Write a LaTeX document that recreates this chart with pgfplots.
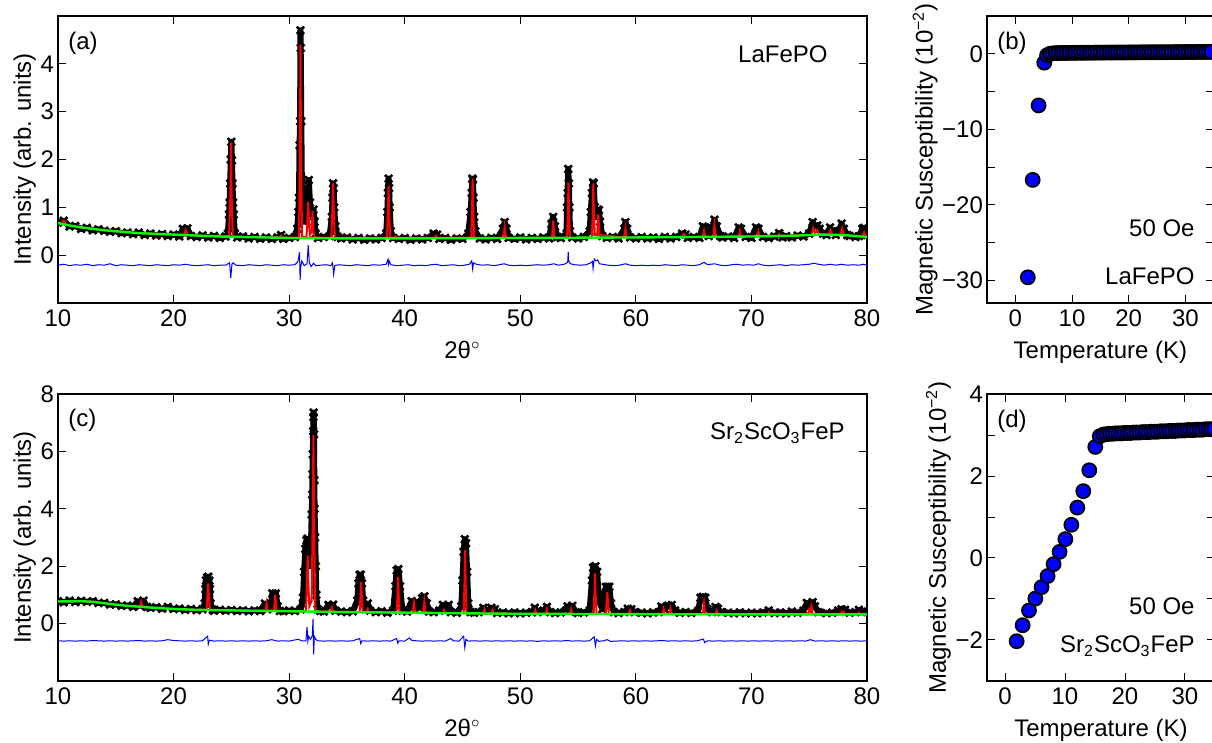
\documentclass[border=0pt]{standalone}
\usepackage{fontspec}
\setmainfont{Liberation Sans}
\usepackage{pgfplots}
\pgfplotsset{compat=1.18}
\usepackage{pgfplotstable}

\pgfplotstableread{
x y
10.0 0.68
10.5 0.72
11.0 0.60
11.5 0.61
12.0 0.55
12.5 0.57
13.0 0.52
13.5 0.54
14.0 0.51
14.5 0.49
15.0 0.50
15.5 0.46
16.0 0.47
16.5 0.44
17.0 0.47
17.5 0.42
18.0 0.45
18.5 0.41
19.0 0.44
19.5 0.40
20.0 0.43
20.5 0.39
20.8 0.55
21.0 0.45
21.2 0.56
21.5 0.40
22.0 0.38
22.5 0.41
23.0 0.37
23.5 0.40
24.0 0.36
24.5 0.39
24.7 0.45
24.8 0.85
24.85 1.1
24.9 1.5
24.95 2.0
25.0 2.37
25.05 1.98
25.1 1.5
25.15 1.1
25.2 0.85
25.3 0.45
25.5 0.37
26.0 0.39
26.5 0.35
27.0 0.38
27.5 0.34
28.0 0.37
28.5 0.34
29.0 0.37
29.3 0.42
29.5 0.34
30.0 0.36
30.5 0.38
30.7 0.55
30.8 0.9
30.85 1.2
30.9 2.3
30.95 2.8
30.98 4.7
31.0 4.33
31.05 2.8
31.1 1.5
31.2 0.9
31.3 0.7
31.5 0.8
31.6 1.1
31.7 1.57
31.8 1.1
31.9 0.8
32.0 0.9
32.1 0.95
32.2 0.7
32.3 0.45
32.5 0.36
33.0 0.38
33.5 0.40
33.7 0.8
33.75 1.2
33.8 1.5
33.85 1.4
33.9 1.0
34.0 0.6
34.2 0.38
34.5 0.35
35.0 0.37
35.5 0.33
36.0 0.36
36.5 0.32
37.0 0.35
37.5 0.33
38.0 0.36
38.4 0.45
38.5 0.9
38.55 1.3
38.6 1.6
38.65 1.4
38.7 1.0
38.8 0.5
39.0 0.36
39.5 0.34
40.0 0.36
40.5 0.32
41.0 0.35
41.5 0.33
42.0 0.36
42.5 0.45
42.8 0.43
43.0 0.34
43.5 0.36
44.0 0.32
44.5 0.35
45.0 0.34
45.5 0.45
45.7 0.9
45.8 1.3
45.85 1.6
45.9 1.58
45.95 1.2
46.0 0.8
46.1 0.5
46.5 0.35
47.0 0.33
47.5 0.36
48.0 0.34
48.5 0.55
48.65 0.69
48.8 0.55
49.0 0.36
49.5 0.34
50.0 0.37
50.5 0.33
51.0 0.36
51.5 0.34
52.0 0.37
52.5 0.35
52.7 0.65
52.85 0.8
53.0 0.6
53.2 0.38
53.5 0.36
54.0 0.45
54.05 1.0
54.1 1.3
54.15 1.8
54.2 1.5
54.25 1.0
54.3 0.5
54.5 0.37
55.0 0.35
55.5 0.38
56.0 0.5
56.1 0.9
56.2 1.3
56.3 1.52
56.35 1.5
56.45 1.0
56.6 0.8
56.7 0.95
56.8 0.94
56.9 0.7
57.1 0.4
57.5 0.36
58.0 0.38
58.5 0.35
59.0 0.55
59.1 0.69
59.25 0.55
59.5 0.37
60.0 0.35
60.5 0.38
61.0 0.35
61.5 0.37
62.0 0.34
62.5 0.38
63.0 0.35
63.5 0.38
64.0 0.45
64.3 0.43
64.5 0.36
65.0 0.38
65.5 0.36
65.8 0.6
66.0 0.58
66.3 0.4
66.6 0.55
66.8 0.74
67.0 0.6
67.3 0.4
67.5 0.37
68.0 0.39
68.5 0.36
68.9 0.58
69.1 0.55
69.5 0.38
70.0 0.36
70.4 0.58
70.6 0.55
71.0 0.38
71.5 0.36
72.0 0.39
72.4 0.46
72.7 0.37
73.0 0.40
73.5 0.37
74.0 0.41
74.5 0.39
75.0 0.45
75.3 0.69
75.5 0.6
75.7 0.62
75.9 0.55
76.2 0.45
76.5 0.42
76.8 0.58
77.0 0.5
77.3 0.42
77.6 0.5
77.8 0.66
78.0 0.55
78.3 0.42
78.5 0.40
79.0 0.38
79.3 0.40
79.6 0.55
79.75 0.57
80.0 0.42
}\obsA

\pgfplotstableread{
x y
10 0.67
10.3 0.66
10.5 0.72
10.7 0.64
11 0.62
12 0.58
13 0.55
14 0.52
15 0.50
16 0.48
17 0.46
18 0.45
19 0.44
20 0.43
20.9 0.42
21.05 0.52
21.2 0.42
22 0.41
23 0.40
24 0.39
24.8 0.39
24.92 1.3
24.97 2.35
25.02 1.3
25.12 0.39
26 0.38
27 0.38
28 0.37
29.2 0.37
29.3 0.41
29.4 0.37
30 0.36
30.85 0.37
30.93 2.0
30.98 4.4
31.03 2.0
31.12 0.38
31.5 0.38
31.58 0.7
31.65 1.12
31.72 0.7
31.8 0.42
31.95 0.5
32.02 0.92
32.1 0.5
32.2 0.37
33.65 0.36
33.75 1.0
33.8 1.5
33.85 1.0
33.95 0.36
38.45 0.36
38.55 0.9
38.6 1.45
38.65 0.9
38.75 0.36
39.1 0.36
39.2 0.39
39.3 0.36
42.6 0.36
42.7 0.40
42.8 0.36
45.75 0.36
45.83 1.0
45.88 1.6
45.93 1.0
46.0 0.36
48.55 0.36
48.65 0.58
48.75 0.36
52.75 0.36
52.85 0.72
52.95 0.36
54.05 0.36
54.12 0.9
54.17 1.52
54.22 0.9
54.3 0.36
56.2 0.37
56.27 0.9
56.32 1.5
56.37 0.9
56.45 0.42
56.65 0.42
56.75 0.85
56.85 0.42
59.0 0.37
59.1 0.55
59.2 0.37
64.0 0.38
64.15 0.44
64.3 0.38
65.8 0.38
65.9 0.5
66.0 0.38
66.7 0.38
66.8 0.62
66.9 0.38
68.9 0.39
69.0 0.5
69.1 0.39
70.5 0.39
70.6 0.49
70.7 0.39
72.3 0.40
72.4 0.44
72.5 0.40
75.2 0.42
75.35 0.56
75.5 0.47
75.7 0.52
75.85 0.43
76.7 0.43
76.85 0.52
77.0 0.43
77.7 0.42
77.85 0.55
78.0 0.42
79.6 0.39
79.75 0.48
79.9 0.38
80 0.38
}\calcA

\pgfplotstableread{
x y
10 0.67
11 0.62
12 0.58
13 0.55
14 0.52
15 0.50
16 0.48
17 0.46
18 0.45
19 0.44
20 0.43
21 0.42
22 0.41
23 0.40
24 0.39
26 0.38
28 0.37
30 0.36
35 0.35
40 0.35
45 0.355
50 0.36
55 0.365
60 0.37
65 0.38
70 0.39
72 0.40
74 0.41
76 0.43
78 0.42
79 0.40
80 0.38
}\bgA

\pgfplotstableread{
x y
10.0 -0.21
10.5 -0.19
11.0 -0.22
11.5 -0.20
12.0 -0.21
12.5 -0.19
13.0 -0.22
13.5 -0.20
14.0 -0.21
14.5 -0.18
15.0 -0.22
15.5 -0.20
16.0 -0.21
16.5 -0.22
17.0 -0.20
17.5 -0.21
18.0 -0.22
18.5 -0.20
19.0 -0.21
19.5 -0.22
20.0 -0.20
20.5 -0.21
21.0 -0.19
21.5 -0.21
22.0 -0.22
22.5 -0.21
23.0 -0.20
23.5 -0.22
24.0 -0.21
24.5 -0.21
24.85 -0.16
24.95 -0.48
25.05 -0.19
25.15 -0.16
25.4 -0.21
26.0 -0.22
26.5 -0.20
27.0 -0.21
27.5 -0.22
28.0 -0.20
28.5 -0.21
29.0 -0.22
29.5 -0.20
30.0 -0.21
30.5 -0.20
30.75 -0.14
30.9 0.06
30.95 -0.52
31.0 -0.25
31.1 -0.12
31.3 -0.22
31.55 -0.18
31.65 0.21
31.75 -0.16
31.9 -0.24
32.1 -0.17
32.3 -0.22
32.7 -0.21
33.2 -0.20
33.6 -0.22
33.75 -0.16
33.85 -0.40
33.95 -0.22
34.3 -0.20
34.8 -0.21
35.3 -0.22
35.8 -0.20
36.3 -0.21
36.8 -0.22
37.3 -0.20
37.8 -0.21
38.4 -0.19
38.55 -0.09
38.6 -0.19
38.65 -0.12
38.8 -0.20
39.3 -0.22
39.8 -0.21
40.3 -0.20
40.8 -0.22
41.3 -0.21
41.8 -0.22
42.3 -0.20
42.7 -0.19
43.2 -0.22
43.7 -0.21
44.2 -0.20
44.7 -0.22
45.2 -0.21
45.6 -0.19
45.8 -0.12
45.88 -0.29
45.95 -0.16
46.2 -0.19
46.7 -0.21
47.2 -0.20
47.7 -0.22
48.2 -0.20
48.6 -0.18
49.0 -0.21
49.5 -0.22
50.0 -0.21
50.5 -0.22
51.0 -0.21
51.5 -0.20
52.0 -0.21
52.5 -0.20
52.9 -0.18
53.3 -0.21
53.8 -0.19
54.1 -0.15
54.15 0.07
54.2 -0.13
54.35 -0.18
54.7 -0.20
55.2 -0.21
55.7 -0.20
56.1 -0.16
56.25 -0.13
56.3 -0.28
56.4 -0.08
56.55 -0.12
56.7 -0.10
56.85 -0.18
57.1 -0.19
57.6 -0.21
58.1 -0.22
58.6 -0.21
59.1 -0.18
59.5 -0.21
60.0 -0.22
60.5 -0.21
61.0 -0.22
61.5 -0.21
62.0 -0.22
62.5 -0.20
63.0 -0.21
63.5 -0.22
64.0 -0.20
64.5 -0.21
65.0 -0.22
65.5 -0.20
65.9 -0.15
66.2 -0.20
66.8 -0.18
67.3 -0.21
67.8 -0.22
68.3 -0.20
68.8 -0.19
69.2 -0.21
69.7 -0.20
70.2 -0.21
70.6 -0.18
71.0 -0.21
71.5 -0.22
72.0 -0.21
72.5 -0.20
73.0 -0.22
73.5 -0.20
74.0 -0.21
74.5 -0.20
75.0 -0.19
75.4 -0.17
75.8 -0.19
76.3 -0.21
76.8 -0.19
77.3 -0.21
77.8 -0.19
78.3 -0.21
78.8 -0.20
79.3 -0.21
79.7 -0.19
80.0 -0.21
}\diffA

\pgfplotstableread{
x y
10.0 0.78
10.5 0.74
11.0 0.80
11.5 0.75
12.0 0.79
12.5 0.76
13.0 0.78
13.5 0.72
14.0 0.72
14.5 0.66
15.0 0.67
15.5 0.62
16.0 0.63
16.5 0.58
16.9 0.78
17.1 0.62
17.4 0.80
17.7 0.58
18.0 0.55
18.5 0.57
19.0 0.52
19.5 0.58
20.0 0.51
20.5 0.52
21.0 0.48
21.5 0.51
22.0 0.47
22.5 0.50
22.7 0.7
22.75 1.2
22.8 1.5
22.9 1.6
23.0 1.63
23.1 1.5
23.15 1.2
23.2 0.7
23.4 0.48
23.5 0.45
24.0 0.48
24.5 0.45
25.0 0.47
25.5 0.44
26.0 0.46
26.5 0.43
27.0 0.46
27.5 0.44
27.9 0.70
28.1 0.50
28.4 0.60
28.55 1.05
28.7 0.95
28.85 1.05
29.0 0.6
29.2 0.44
29.5 0.43
30.0 0.45
30.5 0.44
31.0 0.50
31.2 0.9
31.3 1.8
31.4 2.6
31.5 2.9
31.6 2.96
31.7 2.6
31.8 2.0
31.9 2.9
31.95 3.8
32.0 4.5
32.02 5.2
32.05 5.9
32.08 6.7
32.1 7.2
32.12 7.35
32.15 6.6
32.18 5.0
32.2 4.0
32.25 3.0
32.3 2.0
32.35 1.0
32.45 0.5
32.7 0.44
33.0 0.42
33.4 0.65
33.6 0.6
33.8 0.66
34.0 0.45
34.5 0.42
35.0 0.40
35.5 0.43
35.9 0.8
36.0 1.4
36.1 1.7
36.2 1.7
36.3 1.4
36.4 0.8
36.6 0.5
36.8 0.7
37.0 0.45
37.5 0.40
38.0 0.43
38.5 0.38
39.0 0.45
39.2 1.3
39.3 1.85
39.45 1.9
39.6 1.3
39.8 0.45
40.2 0.42
40.6 0.78
40.8 0.6
41.0 0.75
41.3 0.55
41.5 0.88
41.7 0.95
41.9 0.7
42.1 0.42
42.5 0.40
43.0 0.45
43.3 0.65
43.5 0.5
43.8 0.65
44.0 0.40
44.5 0.38
44.9 0.6
45.0 1.5
45.1 2.5
45.2 2.94
45.3 2.8
45.4 1.8
45.5 0.7
45.7 0.40
46.0 0.38
46.4 0.40
46.8 0.55
47.2 0.45
47.5 0.55
47.8 0.50
48.0 0.37
48.5 0.39
49.0 0.36
49.5 0.39
50.0 0.36
50.5 0.38
51.0 0.40
51.25 0.55
51.5 0.40
52.0 0.45
52.3 0.58
52.6 0.40
53.0 0.37
53.5 0.39
54.1 0.6
54.3 0.5
54.5 0.62
54.8 0.40
55.0 0.37
55.5 0.39
56.0 0.45
56.2 1.5
56.3 1.95
56.5 2.0
56.65 1.8
56.8 0.8
57.1 0.5
57.3 1.0
57.4 1.28
57.55 1.28
57.7 1.28
57.85 0.7
58.1 0.40
58.5 0.37
59.0 0.40
59.3 0.52
59.6 0.5
59.9 0.40
60.5 0.38
61.0 0.36
61.5 0.39
62.0 0.40
62.2 0.6
62.5 0.5
62.8 0.62
63.1 0.65
63.4 0.45
63.8 0.38
64.3 0.40
64.8 0.37
65.4 0.45
65.6 0.9
65.8 0.93
66.0 0.9
66.2 0.5
66.6 0.40
66.9 0.58
67.1 0.52
67.4 0.40
68.0 0.38
68.5 0.36
69.0 0.39
69.5 0.36
70.0 0.38
70.5 0.36
71.0 0.39
71.5 0.46
72.0 0.37
72.5 0.39
73.0 0.36
73.5 0.42
74.0 0.38
74.5 0.45
74.8 0.72
75.0 0.6
75.3 0.75
75.5 0.6
75.8 0.40
76.5 0.37
77.0 0.38
77.5 0.45
77.8 0.50
78.1 0.48
78.5 0.38
79.0 0.40
79.3 0.48
79.6 0.42
80.0 0.40
}\obsC

\pgfplotstableread{
x y
10 0.77
12 0.78
13 0.76
14 0.71
15 0.66
16 0.62
17.1 0.59
17.2 0.75
17.3 0.59
18 0.56
20 0.51
22 0.48
22.85 0.48
22.95 1.0
23.0 1.4
23.05 1.0
23.15 0.48
25 0.46
27.95 0.45
28.05 0.7
28.15 0.45
28.7 0.45
28.8 1.0
28.9 0.45
30 0.43
31.45 0.43
31.55 1.5
31.6 2.38
31.65 1.5
31.75 0.6
31.95 0.8
32.05 4.0
32.1 6.57
32.15 4.0
32.25 0.6
32.35 0.43
33.6 0.41
33.7 0.55
33.8 0.41
36.1 0.40
36.18 1.0
36.22 1.45
36.28 1.0
36.36 0.40
36.7 0.40
36.8 0.5
36.9 0.40
39.3 0.39
39.38 1.0
39.42 1.63
39.48 1.0
39.56 0.39
40.7 0.38
40.8 0.7
40.9 0.38
41.6 0.38
41.7 0.75
41.8 0.38
43.3 0.37
43.4 0.47
43.5 0.37
45.1 0.36
45.18 1.5
45.22 2.56
45.27 1.5
45.35 0.36
46.8 0.36
46.9 0.5
47.0 0.36
47.5 0.36
47.6 0.48
47.7 0.36
50 0.34
51.2 0.34
51.3 0.47
51.4 0.34
52.2 0.34
52.3 0.5
52.4 0.34
54.3 0.34
54.4 0.5
54.5 0.34
56.35 0.34
56.42 1.0
56.47 1.75
56.52 1.0
56.6 0.34
57.4 0.34
57.48 0.8
57.53 1.1
57.58 0.8
57.66 0.34
59.4 0.33
59.5 0.45
59.6 0.33
60 0.33
62.3 0.33
62.4 0.5
62.5 0.33
62.9 0.33
63.0 0.52
63.1 0.33
65.8 0.33
65.9 0.7
66.0 0.33
66.9 0.33
67.0 0.45
67.1 0.33
70 0.32
71.4 0.32
71.5 0.38
71.6 0.32
74.9 0.32
75.0 0.5
75.1 0.42
75.2 0.6
75.3 0.32
77.7 0.32
77.8 0.4
77.9 0.32
78.0 0.4
78.1 0.32
79.2 0.32
79.3 0.38
79.4 0.32
80 0.32
}\calcC

\pgfplotstableread{
x y
10 0.77
12 0.78
13 0.76
14 0.71
15 0.66
16 0.62
18 0.56
20 0.51
22 0.48
25 0.46
28 0.44
30 0.43
35 0.40
40 0.38
45 0.36
50 0.34
60 0.33
70 0.32
80 0.32
}\bgC

\pgfplotstableread{
x y
10 -0.60
10.5 -0.61
11 -0.60
11.5 -0.61
12 -0.60
12.5 -0.61
13 -0.59
13.5 -0.60
14 -0.61
14.5 -0.60
15 -0.61
15.5 -0.60
16 -0.61
16.5 -0.60
17 -0.59
17.5 -0.61
18 -0.60
18.5 -0.61
19 -0.60
19.5 -0.56
20 -0.59
20.5 -0.60
21 -0.61
21.5 -0.60
22 -0.61
22.5 -0.60
22.95 -0.44
23.0 -0.72
23.1 -0.58
23.5 -0.61
24 -0.60
24.5 -0.61
25 -0.60
25.5 -0.61
26 -0.60
26.5 -0.61
27 -0.60
27.5 -0.61
28 -0.60
28.5 -0.56
29 -0.61
29.5 -0.60
30 -0.61
30.5 -0.57
30.8 -0.55
31.1 -0.60
31.45 -0.60
31.55 -0.12
31.62 -0.62
31.7 -0.45
31.85 -0.55
32.0 -0.42
32.07 0.17
32.12 -1.07
32.18 -0.45
32.3 -0.55
32.5 -0.60
33 -0.61
33.5 -0.60
34 -0.61
34.5 -0.60
35 -0.61
35.5 -0.60
36.1 -0.52
36.2 -0.70
36.3 -0.60
36.8 -0.61
37.3 -0.60
37.8 -0.61
38.3 -0.60
38.8 -0.61
39.3 -0.52
39.4 -0.68
39.5 -0.60
40.0 -0.61
40.4 -0.50
40.6 -0.58
41.0 -0.60
41.5 -0.61
42 -0.60
42.5 -0.61
43 -0.60
43.5 -0.61
44.0 -0.52
44.2 -0.60
44.7 -0.61
45.1 -0.44
45.2 -0.84
45.3 -0.55
45.5 -0.61
46 -0.60
46.5 -0.61
47 -0.60
47.5 -0.61
48 -0.60
48.5 -0.61
49 -0.60
49.5 -0.61
50 -0.60
50.5 -0.61
51 -0.60
51.5 -0.62
52 -0.60
52.5 -0.61
53 -0.60
53.5 -0.61
54 -0.59
54.5 -0.61
55 -0.60
55.5 -0.61
56 -0.60
56.4 -0.46
56.5 -0.78
56.6 -0.55
56.8 -0.62
57.2 -0.60
57.5 -0.56
57.8 -0.62
58.3 -0.61
58.8 -0.60
59.3 -0.61
59.8 -0.60
60.3 -0.61
60.8 -0.60
61.3 -0.61
61.8 -0.60
62.3 -0.59
62.8 -0.61
63.3 -0.60
63.8 -0.61
64.3 -0.60
64.8 -0.61
65.3 -0.60
65.85 -0.54
65.95 -0.66
66.2 -0.60
66.7 -0.61
67.2 -0.60
67.7 -0.61
68.2 -0.60
68.7 -0.61
69.2 -0.60
69.7 -0.61
70.2 -0.60
70.7 -0.61
71.2 -0.60
71.7 -0.61
72.2 -0.60
72.7 -0.61
73.2 -0.60
73.7 -0.61
74.2 -0.60
74.7 -0.61
75.1 -0.56
75.5 -0.61
76 -0.60
76.5 -0.61
77 -0.60
77.5 -0.61
78 -0.60
78.5 -0.61
79 -0.60
79.5 -0.61
80 -0.60
}\diffC

\pgfplotstableread{
x y
2.2 -29.6
3.06 -16.7
4.1 -6.84
5.1 -1.18
5.6 -0.2
6.1 0.0
6.6 0.05
7.1 0.08
7.6 0.10
8.1 0.10
8.6 0.11
9.1 0.11
9.6 0.12
10.1 0.12
10.6 0.12
11.1 0.13
11.6 0.13
12.1 0.13
12.6 0.14
13.1 0.14
13.6 0.14
14.1 0.15
14.6 0.15
15.1 0.15
15.6 0.15
16.1 0.16
16.6 0.16
17.1 0.16
17.6 0.16
18.1 0.17
18.6 0.17
19.1 0.17
19.6 0.17
20.1 0.18
20.6 0.18
21.1 0.18
21.6 0.18
22.1 0.19
22.6 0.19
23.1 0.19
23.6 0.19
24.1 0.20
24.6 0.20
25.1 0.20
25.6 0.20
26.1 0.21
26.6 0.21
27.1 0.21
27.6 0.21
28.1 0.22
28.6 0.22
29.1 0.22
29.6 0.22
30.1 0.23
30.6 0.23
31.1 0.23
31.6 0.23
32.1 0.24
32.6 0.24
33.1 0.24
33.6 0.24
34.1 0.25
34.6 0.25
35.1 0.25
35.6 0.25
}\chiB

\pgfplotstableread{
x y
1.94 -2.03
2.94 -1.64
4.0 -1.28
5.06 -0.99
6.1 -0.71
7.1 -0.44
8.1 -0.15
9.1 0.15
10.06 0.46
11.06 0.81
12.06 1.23
13.05 1.63
14.05 2.14
15.05 2.71
15.8 2.97
16.4 3.01
16.9 3.02
17.4 3.03
17.9 3.03
18.4 3.04
18.9 3.04
19.4 3.04
19.9 3.05
20.4 3.05
20.9 3.05
21.4 3.06
21.9 3.06
22.4 3.06
22.9 3.07
23.4 3.07
23.9 3.07
24.4 3.08
24.9 3.08
25.4 3.08
25.9 3.09
26.4 3.09
26.9 3.09
27.4 3.10
27.9 3.10
28.4 3.10
28.9 3.11
29.4 3.11
29.9 3.11
30.4 3.12
30.9 3.12
31.4 3.12
31.9 3.13
32.4 3.13
32.9 3.13
33.4 3.14
33.9 3.14
34.4 3.14
34.9 3.15
35.4 3.15
}\chiD

\pgfplotsset{
  mystyle/.style={
    scale only axis, anchor=south west,
    clip marker paths=true,
    axis line style={line width=0.7pt},
    tick align=inside, major tick length=3.8pt,
    every tick/.style={black, line width=0.5pt},
    font=\fontsize{12}{14}\selectfont,
    ticklabel style={font=\fontsize{12}{14}\selectfont},
    yticklabel style={xshift=1.5pt},
    label style={font=\fontsize{12}{14}\selectfont},
    ylabel shift=-4.5pt,
  },
  xrd/.style={
    mystyle, width=404.5pt, height=143.5pt,
    xmin=10, xmax=80,
    xtick={10,20,...,80}, xticklabels={10,20,30,40,50,60,70,80},
    xlabel={2θ$^{\circ}$},
    ylabel={Intensity (arb. units)},
  },
  chi/.style={
    mystyle, height=143.5pt, xmax=35,
    xtick={0,10,20,30}, xticklabels={0,10,20,30},
    xlabel={Temperature (K)},
    ylabel={Magnetic Susceptibility (10\textsuperscript{−2})},
  },
  obs/.style={black, line width=3pt, line join=round, mark=x, mark size=2.6pt,
    mark options={line width=1.3pt, solid}},
  calc/.style={red, line width=1pt, no marks},
  bg/.style={green, line width=1.2pt, no marks},
  dif/.style={blue, line width=0.5pt, no marks},
  circ/.style={only marks, mark=*, mark size=3.5pt,
    mark options={fill=blue, draw=black, line width=0.9pt}},
}

\begin{document}
\begin{tikzpicture}
\path[use as bounding box] (0,0) rectangle (606pt,371.5pt);

\begin{axis}[xrd, at={(29pt,220pt)}, ymin=-1, ymax=5, ytick={0,1,2,3,4}, yticklabels={0,1,2,3,4}]
\addplot[obs] table {\obsA};
\addplot[calc] table {\calcA};
\addplot[bg] table {\bgA};
\addplot[dif] table {\diffA};
\end{axis}

\begin{axis}[chi, at={(493.5pt,220pt)}, width=113.4pt, xmin=-5, ymin=-33, ymax=5,
  ytick={-30,-25,...,0}, yticklabels={−30,,−20,,−10,,0}]
\addplot[circ] table {\chiB};
\end{axis}

\begin{axis}[xrd, at={(29pt,31pt)}, ymin=-2, ymax=8, ytick={0,2,4,6,8}, yticklabels={0,2,4,6,8}]
\addplot[obs] table {\obsC};
\addplot[calc] table {\calcC};
\addplot[bg] table {\bgC};
\addplot[dif] table {\diffC};
\end{axis}

\begin{axis}[chi, at={(493.5pt,31pt)}, width=114pt, xmin=-3, ymin=-3, ymax=4,
  ytick={-2,-1,...,4}, yticklabels={−2,,0,,2,,4}]
\addplot[circ] table {\chiD};
\end{axis}

\begin{scope}[every node/.style={inner sep=0pt, font=\fontsize{12}{14}\selectfont}]
\node[anchor=base west] at (34pt,346.5pt) {(a)};
\node[anchor=base east] at (414pt,340.15pt) {LaFePO};
\node[anchor=base west] at (498.5pt,346.5pt) {(b)};
\node[anchor=base east] at (597.5pt,253pt) {50 Oe};
\node[anchor=base east] at (597.5pt,229pt) {LaFePO};
\node[anchor=base west] at (34pt,158pt) {(c)};
\node[anchor=base east] at (422.5pt,151.5pt) {Sr\textsubscript{2}ScO\textsubscript{3}FeP};
\node[anchor=base west] at (498.5pt,157.5pt) {(d)};
\node[anchor=base east] at (597.5pt,64pt) {50 Oe};
\node[anchor=base east] at (597.5pt,45pt) {Sr\textsubscript{2}ScO\textsubscript{3}FeP};
\end{scope}
\end{tikzpicture}
\end{document}
